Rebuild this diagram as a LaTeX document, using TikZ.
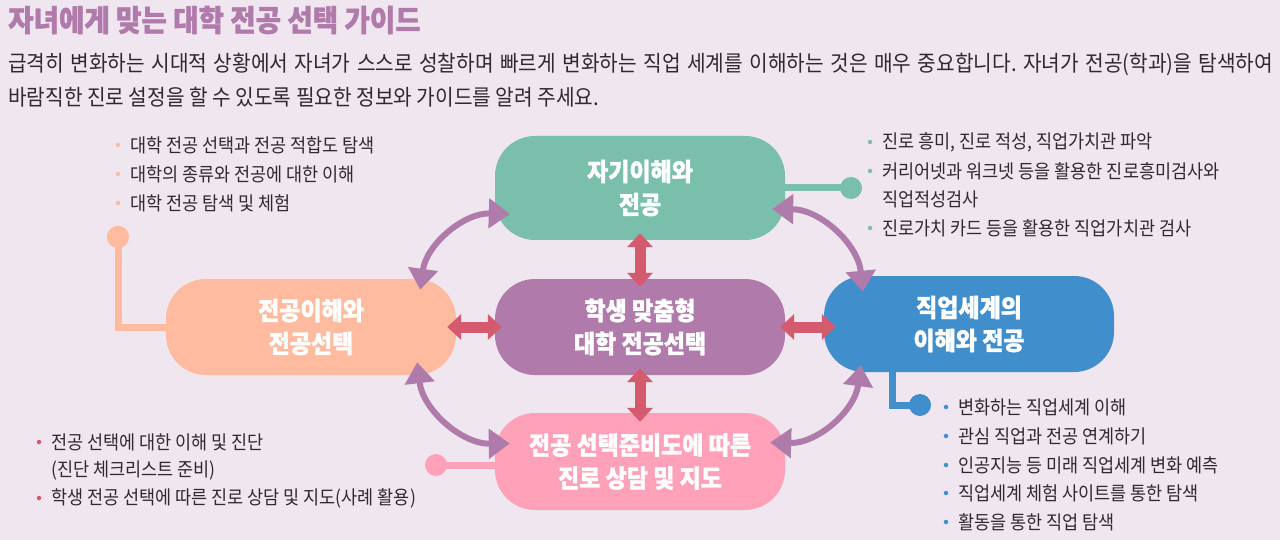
\documentclass[tikz,border=0pt]{standalone}
\usepackage{fontspec}
\newfontfamily\kr{Noto Sans CJK KR}[FakeStretch=0.92]
\newfontfamily\krh{Noto Sans CJK KR}[FakeStretch=0.92, BoldFeatures={FakeBold=1.3}]
\usetikzlibrary{arrows.meta}
\frenchspacing
\definecolor{bg}{HTML}{F0E6EF}
\definecolor{titlec}{HTML}{B07AAB}
\definecolor{txt}{HTML}{2E2A2D}
\definecolor{cgreen}{HTML}{7ABEAC}
\definecolor{cpurple}{HTML}{B07BAA}
\definecolor{cpeach}{HTML}{FFBB9F}
\definecolor{cblue}{HTML}{418ECD}
\definecolor{cpink}{HTML}{FFA1B8}
\definecolor{cred}{HTML}{D45A6E}
\definecolor{carc}{HTML}{AF7BAA}
\begin{document}
\begin{tikzpicture}[x=1pt,y=-1pt,
  box/.style={rounded corners=40pt, minimum width=290pt, minimum height=96pt, inner sep=0pt, text=white, font=\krh\bfseries\fontsize{25}{33}\selectfont, align=center},
  item/.style={anchor=west, inner sep=0pt, text=txt, font=\kr\fontsize{19}{22}\selectfont},
  para/.style={anchor=west, inner sep=0pt, text=txt, font=\kr\fontsize{22}{34}\selectfont\frenchspacing},
  bul/.style={circle, inner sep=0pt, minimum size=4.5pt},
  bigdot/.style={circle, inner sep=0pt, minimum size=22pt},
  link/.style={line width=7pt},
  redarr/.style={cred, line width=11pt, {Triangle[length=14pt,width=25pt]}-{Triangle[length=14pt,width=25pt]}},
  arcarr/.style={carc, line width=6pt, {Triangle[length=21pt,width=29pt]}-{Triangle[length=21pt,width=29pt]}}
]
\fill[bg] (0,0) rectangle (1280,540);
\useasboundingbox (0,0) rectangle (1280,540);

% title and paragraph
\node[anchor=west, inner sep=0pt, text=titlec, font=\krh\bfseries\fontsize{30}{32}\selectfont] (title) at (8,20) {자녀에게 맞는 대학 전공 선택 가이드};
\node[para, text width=1265pt, align=justify] (para) at (8,80) {급격히 변화하는 시대적 상황에서 자녀가 스스로 성찰하며 빠르게 변화하는 직업 세계를 이해하는 것은 매우 중요합니다. 자녀가 전공(학과)을 탐색하여\linebreak 바람직한 진로 설정을 할 수 있도록 필요한 정보와 가이드를 알려 주세요.};

% boxes
\node[box, fill=cgreen, minimum height=104pt] (green) at (640,188) {자기이해와\\전공};
\node[box, fill=cpurple] (purple) at (640,327) {학생 맞춤형\\대학 전공선택};
\node[box, fill=cpeach] (peach) at (311,327) {전공이해와\\전공선택};
\node[box, fill=cblue] (blue) at (969,324) {직업세계의\\이해와 전공};
\node[box, fill=cpink, minimum height=97pt] (pink) at (640,461.5) {전공 선택준비도에 따른\\진로 상담 및 지도};

% connectors to lists
\node[bigdot, fill=cpeach] (pdot) at (118,237) {};
\draw[link, cpeach] (pdot.center) |- (peach.west);
\node[bigdot, fill=cpeach] at (pdot) {};
\node[bigdot, fill=cgreen] (gdot) at (851,188) {};
\draw[link, cgreen] (green.east) -- (gdot.center);
\node[bigdot, fill=cblue] (bdot) at (920,405) {};
\draw[link, cblue] ([shift={(-77,0)}]blue.south) |- (bdot.center);
\node[bigdot, fill=cpink] (kdot) at (436,465) {};
\draw[link, cpink] (kdot.center) -- (kdot -| pink.west);

% red arrows
\draw[redarr] ([shift={(0,-7)}]green.south) -- ([shift={(0,8)}]purple.north);
\draw[redarr] ([shift={(0,-7)}]purple.south) -- ([shift={(0,9)}]pink.north);
\draw[redarr] ([shift={(-9,0)}]peach.east) -- ([shift={(7,0)}]purple.west);
\draw[redarr] ([shift={(-5,0)}]purple.east) -- ([shift={(12,3)}]blue.west);

% curved arrows
\coordinate (a1) at ([shift={(-36,11)}]peach.north east);
\coordinate (a2) at ([shift={(15,26)}]green.west);
\coordinate (b1) at ([shift={(-13,21)}]green.east);
\coordinate (b2) at ([shift={(39,16)}]blue.north west);
\coordinate (c1) at ([shift={(37,-7)}]blue.south west);
\coordinate (c2) at ([shift={(-15,-19)}]pink.east);
\coordinate (d1) at ([shift={(15,-18)}]pink.west);
\coordinate (d2) at ([shift={(-39,-13)}]peach.south east);
\draw[arcarr] (a1) to[bend left=42] (a2);
\draw[arcarr] (b1) to[bend left=42] (b2);
\draw[arcarr] (c1) to[bend left=42] (c2);
\draw[arcarr] (d1) to[bend left=42] (d2);

% top-left list
\foreach \yy in {145,174,203} \node[bul, fill=cpeach] at (118,\yy) {};
\node[item] (tl1) at (130,145) {대학 전공 선택과 전공 적합도 탐색};
\node[item] (tl2) at (130,174) {대학의 종류와 전공에 대한 이해};
\node[item] (tl3) at (130,203) {대학 전공 탐색 및 체험};

% top-right list
\foreach \yy in {142,171,228} \node[bul, fill=cgreen] at (870,\yy) {};
\node[item] (tr1) at (882,142) {진로 흥미, 진로 적성, 직업가치관 파악};
\node[item] (tr2) at (882,171) {커리어넷과 워크넷 등을 활용한 진로흥미검사와};
\node[item] (tr3) at (882,199) {직업적성검사};
\node[item] (tr4) at (882,228) {진로가치 카드 등을 활용한 직업가치관 검사};

% bottom-left list
\foreach \yy in {442,498} \node[bul, fill=cred] at (39,\yy) {};
\node[item] (bl1) at (51,442) {전공 선택에 대한 이해 및 진단};
\node[item] (bl2) at (51,471) {(진단 체크리스트 준비)};
\node[item] (bl3) at (51,498) {학생 전공 선택에 따른 진로 상담 및 지도(사례 활용)};

% bottom-right list
\foreach \yy in {407,436,465,493,522} \node[bul, fill=cblue] at (946,\yy) {};
\node[item] (br1) at (958,407) {변화하는 직업세계 이해};
\node[item] (br2) at (958,436) {관심 직업과 전공 연계하기};
\node[item] (br3) at (958,465) {인공지능 등 미래 직업세계 변화 예측};
\node[item] (br4) at (958,493) {직업세계 체험 사이트를 통한 탐색};
\node[item] (br5) at (958,522) {활동을 통한 직업 탐색};
\end{tikzpicture}
\end{document}
